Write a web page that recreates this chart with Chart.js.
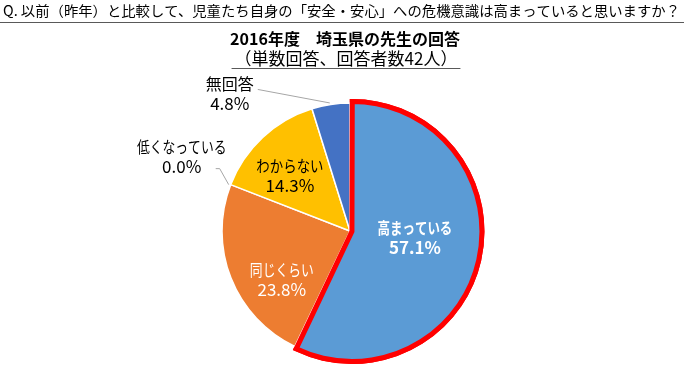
<!DOCTYPE html>
<html><head><meta charset="utf-8">
<script src="https://cdn.jsdelivr.net/npm/chart.js@4.4.0/dist/chart.umd.min.js"></script>
<style>html,body{margin:0;padding:0;background:#fff;}</style>
</head><body>
<canvas id="c" width="686" height="365"></canvas>
<script>
// ---- data ----
const questionText = 'Q. 以前（昨年）と比較して、児童たち自身の「安全・安心」への危機意識は高まっていると思いますか？';
const chartTitle = '2016年度　埼玉県の先生の回答';
const chartSubtitle = '（単数回答、回答者数42人）';
const categories = ['高まっている', '同じくらい', '低くなっている', 'わからない', '無回答'];
const percentages = [57.1, 23.8, 0.0, 14.3, 4.8];
const sliceColors = ['#5B9BD5', '#ED7D31', '#A5A5A5', '#FFC000', '#4472C4'];

const FONT = '"Noto Sans CJK JP", "Noto Sans", sans-serif';

// label layout (styling / placement only)
const labelLayout = [
  {inside: true, r: 0.51, dA: -6.7, color: '#FFFFFF', bold: true, sx: 0.78},
  {inside: true, r: 0.655, dA: -14, color: '#FFFFFF', bold: false, sx: 0.8},
  {inside: false, dx: -49, dy: -28, line: [[-15, -16], [-11, -16], [-2, 0]], color: '#000000', bold: false, sx: 0.8},
  {inside: true, r: 0.636, dA: -4.5, color: '#000000', bold: false, sx: 0.84},
  {inside: false, dx: -101, dy: -11, line: [[-73, -15], [-1, -1.5]], color: '#000000', bold: false, sx: 1.0}
];

function drawText(ctx, text, x, y, font, color, sx, align) {
  ctx.save();
  ctx.font = font;
  ctx.fillStyle = color;
  ctx.textAlign = align || 'center';
  ctx.textBaseline = 'middle';
  ctx.translate(x, y);
  ctx.scale(sx, 1);
  ctx.fillText(text, 0, 0);
  ctx.restore();
}

const headerPlugin = {
  id: 'header',
  afterDraw(chart) {
    const ctx = chart.ctx;
    ctx.save();
    ctx.font = '14px ' + FONT;
    const qw = ctx.measureText(questionText).width;
    ctx.restore();
    const qsx = 677 / qw;
    drawText(ctx, questionText, 3, 11, '14px ' + FONT, '#000000', qsx, 'left');
    ctx.save();
    ctx.strokeStyle = '#595959';
    ctx.lineWidth = 1;
    ctx.beginPath();
    ctx.moveTo(0, 22.5); ctx.lineTo(684, 22.5);
    ctx.stroke();
    ctx.restore();
    drawText(ctx, chartTitle, 345, 39, 'bold 16px ' + FONT, '#000000', 1, 'center');
    drawText(ctx, chartSubtitle, 346, 59, '17px ' + FONT, '#000000', 1, 'center');
    ctx.save();
    ctx.font = '17px ' + FONT;
    const sw = ctx.measureText(chartSubtitle).width;
    ctx.strokeStyle = '#595959';
    ctx.lineWidth = 1;
    ctx.beginPath();
    ctx.moveTo(346 - sw / 2 - 3, 68.5); ctx.lineTo(346 + sw / 2 + 3, 68.5);
    ctx.stroke();
    ctx.restore();
  }
};

const redrawFirstPlugin = {
  id: 'redrawFirst',
  afterDatasetsDraw(chart) {
    const arc = chart.getDatasetMeta(0).data[0];
    arc.draw(chart.ctx);
  }
};

const labelPlugin = {
  id: 'sliceLabels',
  afterDatasetsDraw(chart) {
    const ctx = chart.ctx;
    const meta = chart.getDatasetMeta(0);
    meta.data.forEach((arc, i) => {
      const L = labelLayout[i];
      const p = arc.getProps(['x', 'y', 'startAngle', 'endAngle', 'outerRadius'], true);
      const name = categories[i];
      const pct = percentages[i].toFixed(1) + '%';
      const weight = L.bold ? 'bold ' : '';
      let cx, cy;
      if (L.inside) {
        const mid = (p.startAngle + p.endAngle) / 2 + L.dA * Math.PI / 180;
        cx = p.x + Math.cos(mid) * L.r * p.outerRadius;
        cy = p.y + Math.sin(mid) * L.r * p.outerRadius;
      } else {
        const mid = (p.startAngle + p.endAngle) / 2;
        const ex = p.x + Math.cos(mid) * p.outerRadius;
        const ey = p.y + Math.sin(mid) * p.outerRadius;
        cx = ex + L.dx;
        cy = ey + L.dy;
        ctx.save();
        ctx.strokeStyle = '#A6A6A6';
        ctx.lineWidth = 1;
        ctx.beginPath();
        L.line.forEach((pt, k) => {
          if (k === 0) ctx.moveTo(ex + pt[0], ey + pt[1]);
          else ctx.lineTo(ex + pt[0], ey + pt[1]);
        });
        ctx.stroke();
        ctx.restore();
      }
      drawText(ctx, name, cx, cy - 10, weight + '16px ' + FONT, L.color, L.sx, 'center');
      drawText(ctx, pct, cx, cy + 10, weight + '17px ' + FONT, L.color, 1, 'center');
    });
  }
};

new Chart(document.getElementById('c'), {
  type: 'pie',
  data: {
    labels: categories,
    datasets: [{
      data: percentages,
      backgroundColor: sliceColors,
      borderColor: ['#FF0000', '#FFFFFF', '#FFFFFF', '#FFFFFF', '#FFFFFF'],
      borderWidth: [5, 1.5, 1.5, 1.5, 1.5],
      borderJoinStyle: ['miter', 'round', 'round', 'round', 'round'],
      offset: [8, 0, 0, 0, 0],
      radius: 128
    }]
  },
  options: {
    responsive: false,
    animation: false,
    radius: 128,
    layout: {padding: {left: 14, right: 0, top: 97, bottom: 0}},
    plugins: {
      legend: {display: false},
      tooltip: {enabled: false},
      title: {display: false}
    }
  },
  plugins: [redrawFirstPlugin, labelPlugin, headerPlugin]
});
</script>
</body></html>
